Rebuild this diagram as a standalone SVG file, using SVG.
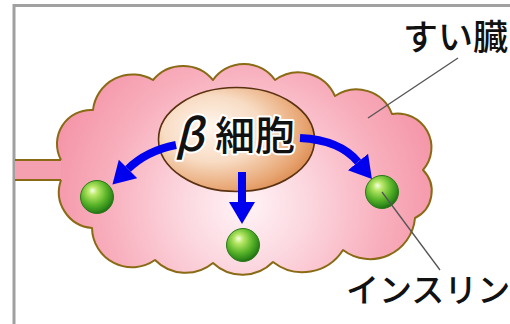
<svg xmlns="http://www.w3.org/2000/svg" width="510" height="324" viewBox="0 0 510 324">
  <defs>
    <radialGradient id="pinkFill" gradientUnits="userSpaceOnUse" cx="245" cy="205" r="200">
      <stop offset="0" stop-color="#fff4f7"/>
      <stop offset="0.3" stop-color="#fcd8e0"/>
      <stop offset="0.7" stop-color="#f8aebc"/>
      <stop offset="1" stop-color="#f495a8"/>
    </radialGradient>
    <radialGradient id="cellFill" cx="0.38" cy="0.42" r="0.7" fx="0.32" fy="0.38">
      <stop offset="0" stop-color="#fff6ee"/>
      <stop offset="0.45" stop-color="#f8dcc4"/>
      <stop offset="0.8" stop-color="#e8a775"/>
      <stop offset="1" stop-color="#d98245"/>
    </radialGradient>
    <radialGradient id="ballFill" cx="0.42" cy="0.38" r="0.62" fx="0.36" fy="0.3">
      <stop offset="0" stop-color="#f6ffe6"/>
      <stop offset="0.22" stop-color="#b9e868"/>
      <stop offset="0.62" stop-color="#5db62a"/>
      <stop offset="0.9" stop-color="#2f8a1a"/>
      <stop offset="1" stop-color="#237012"/>
    </radialGradient>
    <marker id="head" markerUnits="userSpaceOnUse" markerWidth="26" markerHeight="28" refX="0" refY="13" orient="auto">
      <path d="M0,0 L22,13 L0,26 Z" fill="#0000ee"/>
    </marker>
    <style>
      .frame { fill: none; stroke: #a0a0a0; stroke-width: 3; }
      .edge { fill: none; stroke: #8a6a14; stroke-width: 2; stroke-linejoin: round; }
      .arrow { fill: none; stroke: #0000ee; stroke-width: 8; marker-end: url(#head); }
      .leader { fill: none; stroke: #555; stroke-width: 1.3; }
      .ball { fill: url(#ballFill); stroke: #2b7a18; stroke-width: 1; }
      .label { font-family: "Noto Sans CJK JP", "Noto Sans", sans-serif; font-weight: 500; fill: #111; }
      .cellText { font-family: "Noto Sans CJK JP", "Noto Sans", sans-serif; font-weight: 500; fill: #111; stroke: #fff; stroke-width: 4; paint-order: stroke; stroke-linejoin: round; }
    </style>
  </defs>

  <rect width="510" height="324" fill="#fff"/>
  <path class="frame" d="M14,324 V5.5 H510"/>

  <!-- pancreas: scalloped body with duct to the left -->
  <g id="pancreas">
    <rect x="15" y="160" width="50" height="20" fill="#f5a0b0"/>
    <path d="M61,160 A34,34 0 0 1 93,110 A40,40 0 0 1 153,80 A39,39 0 0 1 213,80 A38,38 0 0 1 275,80 A40,40 0 0 1 335,96 A38,38 0 0 1 392,114 A34,34 0 0 1 423,170 A30,30 0 0 1 415,218 A45,45 0 0 1 343,250 A48,48 0 0 1 273,262 A43,43 0 0 1 213,263 A43,43 0 0 1 155,260 A40,40 0 0 1 92,228 A36,36 0 0 1 61,180 Z" fill="url(#pinkFill)"/>
    <path class="edge" d="M61,160 A34,34 0 0 1 93,110 A40,40 0 0 1 153,80 A39,39 0 0 1 213,80 A38,38 0 0 1 275,80 A40,40 0 0 1 335,96 A38,38 0 0 1 392,114 A34,34 0 0 1 423,170 A30,30 0 0 1 415,218 A45,45 0 0 1 343,250 A48,48 0 0 1 273,262 A43,43 0 0 1 213,263 A43,43 0 0 1 155,260 A40,40 0 0 1 92,228 A36,36 0 0 1 61,180"/>
    <path class="edge" d="M15,160 H61 M15,180 H61"/>
  </g>

  <!-- beta cell -->
  <g id="beta-cell">
    <ellipse cx="236.5" cy="139.5" rx="78" ry="52" fill="url(#cellFill)" stroke="#5a3212" stroke-width="1.6"/>
    <text class="cellText" x="175" y="151" font-size="44" font-style="italic" font-weight="bold" font-family="'DejaVu Sans', sans-serif">β</text>
    <text class="cellText" x="215" y="150" font-size="40">細胞</text>
  </g>

  <!-- insulin granules -->
  <g id="insulin-left"><circle class="ball" cx="97" cy="197" r="16.5"/></g>
  <g id="insulin-middle"><circle class="ball" cx="243" cy="245" r="16.5"/></g>
  <g id="insulin-right"><circle class="ball" cx="382" cy="192" r="16.5"/></g>

  <!-- secretion arrows and leader lines -->
  <g id="connectors">
    <path class="arrow" d="M176,145 Q146,151 128,169"/>
    <path class="arrow" d="M242,172 V202"/>
    <path class="arrow" d="M300,138 Q340,140 358,162"/>
    <path class="leader" d="M458,58 L368,118"/>
    <path class="leader" d="M382,192 L440,270"/>
  </g>

  <g id="label-pancreas">
    <text class="label" x="403" y="50" font-size="35">すい臓</text>
  </g>
  <g id="label-insulin">
    <text class="label" x="346" y="302" font-size="33">インスリン</text>
  </g>
</svg>
